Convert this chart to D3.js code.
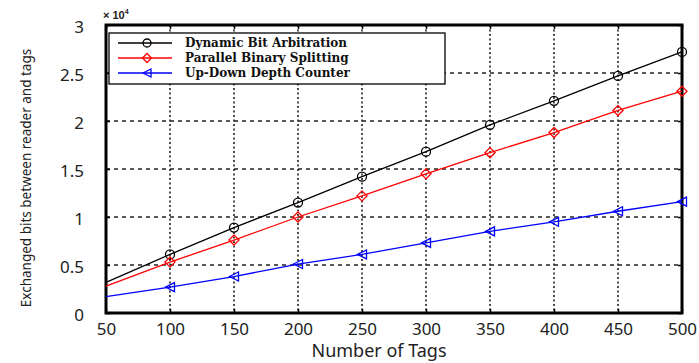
<!DOCTYPE html>
<html>
<head>
<meta charset="utf-8">
<script src="https://cdn.jsdelivr.net/npm/d3@7"></script>
<style>
  body { margin: 0; background: #fff; }
  svg { display: block; }
</style>
</head>
<body>
<div id="chart"></div>
<script>
// tags on x axis
const tags = [50, 100, 150, 200, 250, 300, 350, 400, 450, 500];
// exchanged bits, in units of 10^4
const dynamicBit = [0.32, 0.61, 0.89, 1.15, 1.42, 1.68, 1.96, 2.21, 2.47, 2.72];
const parallelBinary = [0.28, 0.53, 0.76, 1.0, 1.22, 1.45, 1.67, 1.88, 2.11, 2.31];
const upDown = [0.17, 0.27, 0.38, 0.51, 0.61, 0.73, 0.85, 0.95, 1.06, 1.16];
const yTicks = [0, 0.5, 1, 1.5, 2, 2.5, 3];
const yTickLabels = ["0", "0.5", "1", "1.5", "2", "2.5", "3"];
const seriesNames = ["Dynamic Bit Arbitration", "Parallel Binary Splitting", "Up-Down Depth Counter"];

const width = 699, height = 363;
const margin = { top: 25, right: 17, bottom: 50, left: 106 };

const svg = d3.select("#chart").append("svg")
  .attr("width", width)
  .attr("height", height);

const x = d3.scaleLinear().domain([50, 500]).range([margin.left, width - margin.right]);
const y = d3.scaleLinear().domain([0, 3]).range([height - margin.bottom, margin.top]);

const series = [
  { name: seriesNames[0], values: dynamicBit, color: "#000", marker: "circle" },
  { name: seriesNames[1], values: parallelBinary, color: "#ff0000", marker: "diamond" },
  { name: seriesNames[2], values: upDown, color: "#0000ff", marker: "triangle" }
];

// grid
const grid = svg.append("g");
grid.selectAll("line.v")
  .data(tags.slice(1, -1))
  .enter().append("line")
  .attr("x1", d => x(d)).attr("x2", d => x(d))
  .attr("y1", y(3)).attr("y2", y(0))
  .attr("stroke", "#222").attr("stroke-width", 1.6)
  .attr("stroke-dasharray", "2,2.5");
grid.selectAll("line.h")
  .data(yTicks.slice(1, -1))
  .enter().append("line")
  .attr("x1", x(50)).attr("x2", x(500))
  .attr("y1", d => y(d)).attr("y2", d => y(d))
  .attr("stroke", "#222").attr("stroke-width", 1.6)
  .attr("stroke-dasharray", "4,4");

// axes with inner ticks
const xAxis = svg.append("g")
  .attr("transform", `translate(0,${y(0)})`)
  .call(d3.axisBottom(x).tickValues(tags).tickSize(-4).tickPadding(10));
const yAxis = svg.append("g")
  .attr("transform", `translate(${x(50)},0)`)
  .call(d3.axisLeft(y).tickValues(yTicks).tickFormat((d, i) => yTickLabels[i]).tickSize(-4).tickPadding(22));
svg.append("g")
  .attr("transform", `translate(0,${y(3)})`)
  .call(d3.axisTop(x).tickValues(tags).tickSize(-4).tickFormat(""));
svg.append("g")
  .attr("transform", `translate(${x(500)},0)`)
  .call(d3.axisRight(y).tickValues(yTicks).tickSize(-4).tickFormat(""));

svg.selectAll(".domain").remove();
svg.selectAll(".tick line").attr("stroke", "#000").attr("stroke-width", 1.5);
xAxis.selectAll("text")
  .attr("font-family", "Noto Sans, sans-serif").attr("font-size", 17).attr("fill", "#222");
yAxis.selectAll("text")
  .attr("font-family", "Noto Sans, sans-serif").attr("font-size", 17).attr("fill", "#222")
  .attr("dy", "0.45em");

// frame
svg.append("rect")
  .attr("x", x(50)).attr("y", y(3))
  .attr("width", x(500) - x(50)).attr("height", y(0) - y(3))
  .attr("fill", "none").attr("stroke", "#000").attr("stroke-width", 3);

// lines + markers
const line = d3.line().x((d, i) => x(tags[i])).y(d => y(d));

function drawMarker(g, type, color, size) {
  if (type === "circle") {
    g.append("circle").attr("r", size).attr("fill", "none").attr("stroke", color).attr("stroke-width", 1.3);
  } else if (type === "diamond") {
    g.append("path").attr("d", d3.symbol(d3.symbolDiamond2, size * size * 3.2)())
      .attr("fill", "none").attr("stroke", color).attr("stroke-width", 1.3);
  } else {
    const s = size;
    g.append("path").attr("d", `M${-s},0L${s},${-s}L${s},${s}Z`)
      .attr("fill", "none").attr("stroke", color).attr("stroke-width", 1.3);
  }
}

series.forEach(s => {
  svg.append("path")
    .datum(s.values)
    .attr("d", line)
    .attr("fill", "none")
    .attr("stroke", s.color)
    .attr("stroke-width", 1.3);
  s.values.forEach((v, i) => {
    if (i === 0) return;
    const g = svg.append("g").attr("transform", `translate(${x(tags[i])},${y(v)})`);
    drawMarker(g, s.marker, s.color, 4.5);
  });
});

// legend
const legend = svg.append("g").attr("transform", "translate(109,33)");
legend.append("rect")
  .attr("width", 336).attr("height", 51)
  .attr("fill", "#fff").attr("stroke", "#000").attr("stroke-width", 1.3);
series.forEach((s, i) => {
  const row = legend.append("g").attr("transform", `translate(0,${10 + i * 15})`);
  row.append("line").attr("x1", 9).attr("x2", 63).attr("stroke", s.color).attr("stroke-width", 1.6);
  const m = row.append("g").attr("transform", "translate(38,0)");
  drawMarker(m, s.marker, s.color, 4);
  row.append("text")
    .attr("x", 76).attr("dy", "0.35em")
    .attr("font-family", "DejaVu Serif, serif").attr("font-weight", "bold")
    .attr("font-size", 12).attr("fill", "#111")
    .text(s.name);
});

// multiplier
const mult = svg.append("text")
  .attr("x", 103).attr("y", 19)
  .attr("font-family", "Liberation Sans, sans-serif").attr("font-weight", "bold")
  .attr("font-size", 11).attr("fill", "#222");
mult.append("tspan").text("× 10");
mult.append("tspan").attr("font-size", 7).attr("dy", -5).text("4");

// axis titles
svg.append("text")
  .attr("x", 379).attr("y", 357)
  .attr("text-anchor", "middle")
  .attr("font-family", "Noto Sans, sans-serif").attr("font-size", 18).attr("fill", "#222")
  .text("Number of Tags");
svg.append("text")
  .attr("transform", "translate(31,178) rotate(-90)")
  .attr("text-anchor", "middle")
  .attr("font-family", "Noto Sans, sans-serif").attr("font-size", 13.5).attr("fill", "#222")
  .text("Exchanged bits between reader and tags");
</script>
</body>
</html>
